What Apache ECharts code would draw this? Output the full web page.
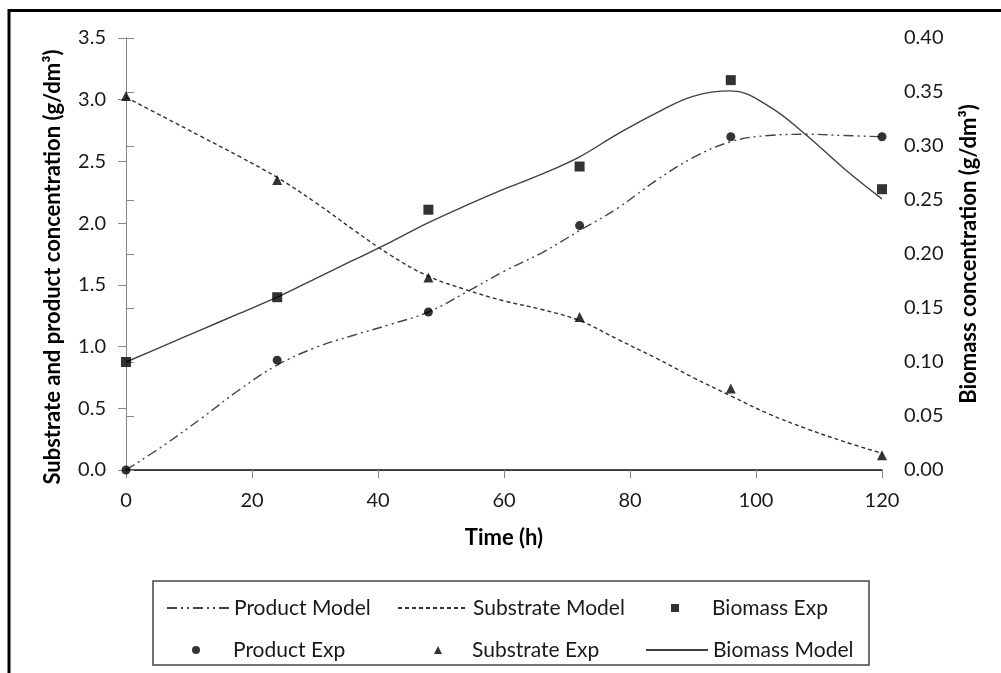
<!DOCTYPE html>
<html>
<head>
<meta charset="utf-8">
<script src="https://cdn.jsdelivr.net/npm/echarts@6/dist/echarts.min.js"></script>
<style>
  html, body { margin: 0; padding: 0; background: #fff; }
  #main { width: 1001px; height: 673px; }
</style>
</head>
<body>
<div id="main"></div>
<script>
// sampling times (h)
var expTime = [0, 24, 48, 72, 96, 120];
var modelTime = [0, 6, 12, 18, 24, 30, 36, 42, 48, 54, 60, 66, 72, 78, 84, 90, 96, 102, 108, 114, 120];

// experimental points
var productExp = [0.0, 0.89, 1.28, 1.98, 2.70, 2.70];
var substrateExp = [3.03, 2.35, 1.56, 1.24, 0.66, 0.12];
var biomassExp = [0.100, 0.160, 0.241, 0.281, 0.361, 0.260];

// model curves
var productModel = [0.0, 0.20, 0.42, 0.65, 0.85, 0.99, 1.09, 1.18, 1.28, 1.44, 1.61, 1.76, 1.94, 2.12, 2.34, 2.53, 2.66, 2.71, 2.72, 2.71, 2.70];
var substrateModel = [3.02, 2.86, 2.70, 2.54, 2.37, 2.17, 1.95, 1.74, 1.57, 1.46, 1.37, 1.30, 1.21, 1.06, 0.91, 0.75, 0.60, 0.455, 0.335, 0.23, 0.135];
var biomassModel = [0.100, 0.115, 0.130, 0.145, 0.160, 0.177, 0.194, 0.211, 0.229, 0.245, 0.260, 0.274, 0.290, 0.311, 0.330, 0.346, 0.351, 0.337, 0.310, 0.279, 0.251];

function pairs(xs, ys) {
  return xs.map(function (x, i) { return [x, ys[i]]; });
}

var font = 'Lato';
var axisGrey = '#868686';
var textCol = '#1a1a1a';

// one legend per entry so the 3x2 grid lines up like the original
function legendItem(name, left, top, iconW, textPad, isLine) {
  var lg = {
    data: [name], left: left, top: top,
    itemWidth: iconW, itemHeight: 8, itemGap: 0,
    textStyle: { fontFamily: font, fontSize: 21, color: textCol, lineHeight: 24, padding: [0, 0, 0, textPad] }
  };
  if (isLine) lg.itemStyle = { opacity: 0, color: 'rgba(0,0,0,0)', borderWidth: 0 };
  return lg;
}

var myChart = echarts.init(document.getElementById('main'));
myChart.setOption({
  animation: false,
  backgroundColor: '#fff',
  grid: { left: 126, right: 119, top: 38, bottom: 203 },
  graphic: [
    { type: 'rect', shape: { x: 9, y: 10.5, width: 1100, height: 800 },
      style: { fill: 'none', stroke: '#000', lineWidth: 3 } },
    { type: 'rect', shape: { x: 153, y: 581, width: 716, height: 84 },
      style: { fill: 'none', stroke: '#444', lineWidth: 1.5 } }
  ],
  legend: [
    legendItem('Product Model', 161, 591, 62, 0, true),
    legendItem('Substrate Model', 392, 591, 70, 0, true),
    legendItem('Biomass Exp', 666, 591, 8, 28, false),
    legendItem('Product Exp', 187, 633, 8, 28, false),
    legendItem('Substrate Exp', 429, 633, 8, 25, false),
    legendItem('Biomass Model', 640, 633, 62, 0, true)
  ],
  xAxis: [
    {
      type: 'value', min: 0, max: 120, interval: 20,
      name: 'Time (h)', nameLocation: 'middle', nameGap: 57,
      nameTextStyle: { fontFamily: font, fontSize: 22, fontWeight: 'bold', color: '#000' },
      axisLine: { show: true, lineStyle: { color: axisGrey, width: 1 } },
      axisTick: { show: true, inside: false, length: 8, lineStyle: { color: axisGrey } },
      axisLabel: { fontFamily: font, fontSize: 20, color: textCol, margin: 21 },
      splitLine: { show: false }
    },
    {
      type: 'value', min: 0, max: 120, position: 'top',
      axisLine: { show: true, lineStyle: { color: '#1a1a1a', width: 1.5 } },
      axisTick: { show: false }, axisLabel: { show: false }, splitLine: { show: false }
    }
  ],
  yAxis: [
    {
      type: 'value', min: 0, max: 3.5, interval: 0.5, position: 'left',
      name: 'Substrate and product concentration (g/dm³)', nameLocation: 'middle', nameGap: 62, nameRotate: 90,
      nameTextStyle: { fontFamily: font, fontSize: 22, fontWeight: 'bold', color: '#000', padding: [0, 26, 0, 0] },
      axisLine: { show: true, lineStyle: { color: axisGrey, width: 1 } },
      axisTick: { show: true, inside: false, length: 8, lineStyle: { color: axisGrey } },
      axisLabel: { fontFamily: font, fontSize: 20, color: textCol, margin: 20,
        formatter: function (v) { return v.toFixed(1); } },
      splitLine: { show: false }
    },
    {
      type: 'value', min: 0, max: 0.4, interval: 0.05, position: 'right',
      name: 'Biomass concentration (g/dm³)', nameLocation: 'middle', nameGap: 76, nameRotate: 90,
      nameTextStyle: { fontFamily: font, fontSize: 22, fontWeight: 'bold', color: '#000' },
      axisLine: { show: true, lineStyle: { color: axisGrey, width: 1 } },
      axisTick: { show: true, inside: false, length: 8, lineStyle: { color: axisGrey } },
      axisLabel: { fontFamily: font, fontSize: 20, color: textCol, margin: 22,
        formatter: function (v) { return v.toFixed(2); } },
      splitLine: { show: false }
    }
  ],
  series: [
    {
      name: 'Product Model', type: 'line', smooth: 0.4, symbol: 'none',
      data: pairs(modelTime, productModel),
      lineStyle: { color: '#444', width: 1.4, type: [10, 4, 2, 4, 2, 4] },
      itemStyle: { color: '#444' }
    },
    {
      name: 'Substrate Model', type: 'line', smooth: 0.4, symbol: 'none',
      data: pairs(modelTime, substrateModel),
      lineStyle: { color: '#333', width: 1.4, type: [4, 3] },
      itemStyle: { color: '#333' }
    },
    {
      name: 'Biomass Exp', type: 'scatter', yAxisIndex: 1, symbol: 'rect', symbolSize: 10,
      data: pairs(expTime, biomassExp),
      itemStyle: { color: '#000' }, z: 5
    },
    {
      name: 'Product Exp', type: 'scatter', symbol: 'circle', symbolSize: 9,
      data: pairs(expTime, productExp),
      itemStyle: { color: '#000' }, z: 5
    },
    {
      name: 'Substrate Exp', type: 'scatter', symbol: 'triangle', symbolSize: 10,
      data: pairs(expTime, substrateExp),
      itemStyle: { color: '#000' }, z: 5
    },
    {
      name: 'Biomass Model', type: 'line', yAxisIndex: 1, smooth: 0.4, symbol: 'none',
      data: pairs(modelTime, biomassModel),
      lineStyle: { color: '#404040', width: 1.4, type: 'solid' },
      itemStyle: { color: '#404040' }
    }
  ]
});
</script>
</body>
</html>
